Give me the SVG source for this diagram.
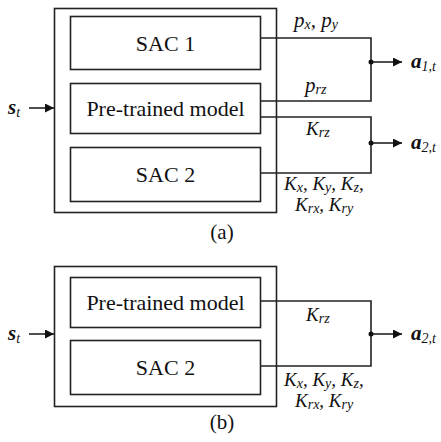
<svg xmlns="http://www.w3.org/2000/svg" width="441" height="442" viewBox="0 0 441 442" font-family="Liberation Serif">
<style>
.box{fill:#fff;stroke:#222;stroke-width:1.6}
.ln{fill:none;stroke:#222;stroke-width:1.6}
.t{font-size:22px;fill:#111;text-anchor:middle}
.lb{font-size:19px;font-style:italic;fill:#111}
.p{font-size:21px}
.s{font-size:14px}
.io{font-size:21px;font-style:italic;font-weight:bold;fill:#111}
.io .s{font-weight:normal;font-size:14px}
.cap{font-size:21px;fill:#111;text-anchor:middle}
</style>
<defs>
<marker id="ah" viewBox="0 0 10 10" refX="10" refY="5" markerWidth="11" markerHeight="9" markerUnits="userSpaceOnUse" orient="auto">
<path d="M0,0 L10,5 L0,10 z" fill="#111"/>
</marker>
</defs>
<rect width="441" height="442" fill="#fff"/>

<g id="outer-a"><rect class="box" x="54.5" y="8.5" width="222" height="204"/></g>
<g id="sac1-a"><rect class="box" x="70.5" y="16.5" width="190" height="53"/><text class="t" x="165.5" y="51">SAC 1</text></g>
<g id="pre-a"><rect class="box" x="70.5" y="83.5" width="190" height="50"/><text class="t" x="165.5" y="116">Pre-trained model</text></g>
<g id="sac2-a"><rect class="box" x="70.5" y="147.5" width="190" height="54"/><text class="t" x="165.5" y="182">SAC 2</text></g>

<g id="connectors-a">
<line class="ln" x1="29" y1="108" x2="54" y2="108" marker-end="url(#ah)"/>
<polyline class="ln" points="261,38 371,38 371,101 261,101"/>
<polyline class="ln" points="261,117 371,117 371,173 261,173"/>
<line class="ln" x1="371" y1="62" x2="402" y2="62" marker-end="url(#ah)"/>
<line class="ln" x1="371" y1="143" x2="402" y2="143" marker-end="url(#ah)"/>
<circle cx="371" cy="62" r="2.5" fill="#111"/>
<circle cx="371" cy="143" r="2.5" fill="#111"/>
</g>
<g id="labels-a">
<text class="io" x="8" y="114">s<tspan class="s" dy="3">t</tspan></text>
<text class="io" x="411" y="68">a<tspan class="s" dy="3">1,<tspan font-style="italic">t</tspan></tspan></text>
<text class="io" x="411" y="149">a<tspan class="s" dy="3">2,<tspan font-style="italic">t</tspan></tspan></text>
<text class="lb p" x="294" y="27">p<tspan class="s" dy="2">x</tspan><tspan dy="-2">, p</tspan><tspan class="s" dy="2">y</tspan></text>
<text class="lb p" x="305" y="92">p<tspan class="s" dy="2">rz</tspan></text>
<text class="lb" x="306" y="135">K<tspan class="s" dy="2">rz</tspan></text>
<text class="lb" x="284" y="190">K<tspan class="s" dy="2">x</tspan><tspan dy="-2">, K</tspan><tspan class="s" dy="2">y</tspan><tspan dy="-2">, K</tspan><tspan class="s" dy="2">z</tspan><tspan dy="-2">,</tspan></text>
<text class="lb" x="295" y="211">K<tspan class="s" dy="2">rx</tspan><tspan dy="-2">, K</tspan><tspan class="s" dy="2">ry</tspan></text>
<text class="cap" x="222" y="239">(a)</text>
</g>

<g id="outer-b"><rect class="box" x="54.5" y="266.5" width="222" height="140"/></g>
<g id="pre-b"><rect class="box" x="70.5" y="277.5" width="190" height="50"/><text class="t" x="165.5" y="310">Pre-trained model</text></g>
<g id="sac2-b"><rect class="box" x="70.5" y="340.5" width="190" height="54"/><text class="t" x="165.5" y="375">SAC 2</text></g>

<g id="connectors-b">
<line class="ln" x1="29" y1="334" x2="54" y2="334" marker-end="url(#ah)"/>
<polyline class="ln" points="261,301 371,301 371,366 261,366"/>
<line class="ln" x1="371" y1="334" x2="402" y2="334" marker-end="url(#ah)"/>
<circle cx="371" cy="334" r="2.5" fill="#111"/>
</g>
<g id="labels-b">
<text class="io" x="8" y="340">s<tspan class="s" dy="3">t</tspan></text>
<text class="io" x="411" y="340">a<tspan class="s" dy="3">2,<tspan font-style="italic">t</tspan></tspan></text>
<text class="lb" x="306" y="321">K<tspan class="s" dy="2">rz</tspan></text>
<text class="lb" x="284" y="386">K<tspan class="s" dy="2">x</tspan><tspan dy="-2">, K</tspan><tspan class="s" dy="2">y</tspan><tspan dy="-2">, K</tspan><tspan class="s" dy="2">z</tspan><tspan dy="-2">,</tspan></text>
<text class="lb" x="295" y="407">K<tspan class="s" dy="2">rx</tspan><tspan dy="-2">, K</tspan><tspan class="s" dy="2">ry</tspan></text>
<text class="cap" x="222" y="429">(b)</text>
</g>
</svg>
